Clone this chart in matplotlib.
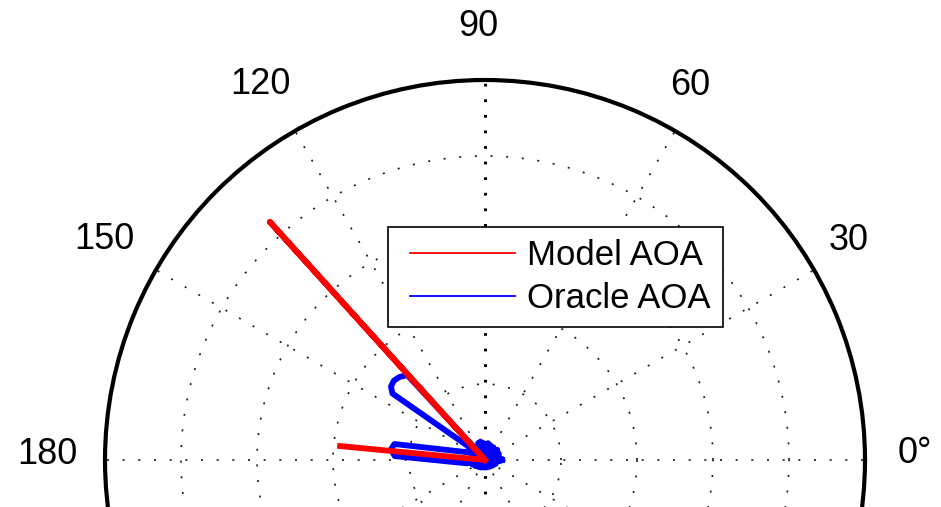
import numpy as np
import matplotlib
matplotlib.use("Agg")
import matplotlib.pyplot as plt
from matplotlib.legend_handler import HandlerLine2D

plt.rcParams['font.family'] = ['Liberation Sans', 'DejaVu Sans']

# Model AOA: two direction estimates (deg, normalised magnitude)
model_theta = [132.1, 174.5]
model_r = [0.844, 0.383]

# Oracle AOA: sampled beam pattern (deg, normalised magnitude)
oracle_theta = [0, 4, 8, 12, 16, 20, 24, 28, 32, 36, 40, 44, 48, 52, 56, 60,
                64, 68, 72, 76, 80, 84, 88, 92, 96, 100, 104, 108, 112, 116,
                120, 124, 128, 131,
                132.5, 136, 139, 142, 144.3, 141, 150, 156,
                170, 173.5, 177.5, 190,
                195, 200, 206, 212, 220, 228, 236, 244, 252, 260, 268, 276,
                284, 292, 300, 308, 316, 324, 332, 340, 348, 356, 360]
oracle_r = [0.045, 0.015, 0.04, 0.01, 0.035, 0.012, 0.04, 0.01, 0.038, 0.015,
            0.042, 0.01, 0.035, 0.015, 0.04, 0.012, 0.038, 0.01, 0.042, 0.015,
            0.045, 0.012, 0.04, 0.015, 0.045, 0.015, 0.05, 0.02, 0.048, 0.015,
            0.04, 0.02, 0.04, 0.05,
            0.303, 0.314, 0.318, 0.314, 0.300, 0.06, 0.03, 0.05,
            0.242, 0.249, 0.238, 0.05,
            0.015, 0.035, 0.01, 0.03, 0.01, 0.025, 0.008, 0.022, 0.008, 0.02,
            0.008, 0.02, 0.008, 0.02, 0.008, 0.022, 0.01, 0.025, 0.01, 0.03,
            0.012, 0.04, 0.045]

ring_values = [0.2, 0.4, 0.6, 0.8]
spoke_angles = [0, 30, 60, 90, 120, 150, 180, 210, 240, 270, 300, 330]
label_texts = ['0°', '30', '60', '90', '120', '150', '180']

# where MATLAB put the angle labels (deg, radius as fraction of rmax)
label_pos = [(0.8, 1.132), (31.15, 1.119), (61.3, 1.124), (90.9, 1.140),
             (120.85, 1.150), (150.0, 1.158), (179.3, 1.153)]

fig = plt.figure(figsize=(9.41, 5.07), dpi=100)
W, H = 941, 507
cx, cy, R = 485, 460, 380
ax = fig.add_axes([(cx - R) / W, (H - cy - R) / H, 2 * R / W, 2 * R / H], projection='polar')
ax.set_ylim(0, 1)
ax.set_xticks([])
ax.set_yticks([])
ax.grid(False)
ax.spines['polar'].set_linewidth(3)
ax.spines['polar'].set_color('black')

# dotted grid
dots = (0, (1.2, 8.2))
full = np.linspace(0, 2 * np.pi, 721)
for rv in ring_values:
    ax.plot(full, np.full_like(full, rv), color='#1a1a1a', lw=1.2,
            linestyle=dots, zorder=1)
for a in spoke_angles:
    th = np.deg2rad(a)
    if a in (90, 270):
        ax.plot([th, th], [0, 1], color='black', lw=2.2,
                linestyle=(0, (0.9, 4.2)), zorder=1)
    else:
        ax.plot([th, th], [0, 1], color='#1a1a1a', lw=1.2,
                linestyle=dots, zorder=1)

# data
ot = np.deg2rad(oracle_theta)
ax.plot(ot, oracle_r, color='#0000ff', lw=4.2, zorder=3, label='Oracle AOA',
        solid_joinstyle='round')

mt = np.deg2rad(model_theta)
ax.plot([mt[0], mt[0], mt[1], mt[1]], [0, model_r[0], 0, model_r[1]],
        color='#ff0000', lw=4.2, zorder=4, label='Model AOA')

for (a, rr), t in zip(label_pos, label_texts):
    ax.text(np.deg2rad(a), rr, t, fontsize=26, ha='center', va='center')

handles, labels = ax.get_legend_handles_labels()
order = [1, 0]
fs = 25
fs_px = fs * 100 / 72
leg = fig.legend([handles[i] for i in order], [labels[i] for i in order],
                 loc='upper left', bbox_to_anchor=(388 / W, (H - 227) / H),
                 bbox_transform=fig.transFigure, borderaxespad=0,
                 fontsize=fs, fancybox=False, framealpha=1, edgecolor='black',
                 borderpad=0.35, labelspacing=0.28, handlelength=115 / fs_px,
                 handletextpad=12 / fs_px,
                 handler_map={h: HandlerLine2D(xpad=10 / fs_px) for h in handles})
leg.get_frame().set_linewidth(1.2)
for ln in leg.get_lines():
    ln.set_linewidth(1.3)

fig.savefig('out.png', dpi=100)
